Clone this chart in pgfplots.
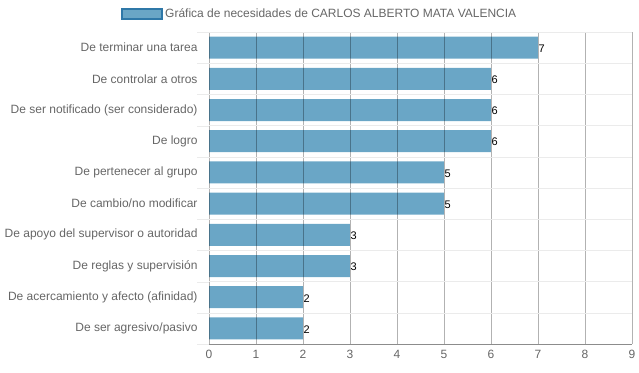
\documentclass[border=0pt]{standalone}
\usepackage{pgfplots}
\pgfplotsset{compat=1.18}
\usepackage{fontspec}
\setmainfont{Liberation Sans}
\definecolor{barc}{HTML}{6AA6C6}
\definecolor{barb}{HTML}{2F78A8}
\definecolor{lab}{HTML}{666666}
\begin{document}
\begin{tikzpicture}[x=1pt,y=1pt]
\path[use as bounding box] (0,0) rectangle (639,372);
\begin{axis}[
  at={(209pt,28pt)}, anchor=south west,
  scale only axis, width=423pt, height=312pt,
  xbar, bar width=22pt,
  xmin=0, xmax=9, xtick={0,...,9},
  ymin=-0.5, ymax=9.5, y dir=reverse,
  ytick={0,...,9},
  yticklabels={De terminar una tarea, De controlar a otros, De ser notificado (ser considerado), De logro, De pertenecer al grupo, De cambio/no modificar, De apoyo del supervisor o autoridad, De reglas y supervisión, De acercamiento y afecto (afinidad), De ser agresivo/pasivo},
  minor ytick={-0.5,0.5,...,9.5},
  major tick length=0pt,
  minor tick length=12pt,
  tick align=outside,
  minor tick style={color=black!8},
  xmajorgrids, major x grid style={black, opacity=0.3},
  yminorgrids, minor y grid style={black!8},
  axis x line*=bottom, axis y line*=left,
  x axis line style={black!45, -},
  y axis line style={draw=none},
  axis on top,
  tick label style={font=\fontsize{12}{14}\selectfont, text=lab},
  xticklabel style={yshift=-3pt},
  yticklabel style={xshift=-8pt},
  /pgf/number format/assume math mode=true,
  nodes near coords,
  every node near coord/.append style={font=\fontsize{11}{13}\selectfont, text=black, anchor=west, inner sep=0.5pt, yshift=-1pt},
  legend style={at={(0.2612,1.0577)}, anchor=center, draw=none, fill=none,
    font=\fontsize{12}{14}\selectfont, text=lab},
  legend image code/.code={\draw[fill=barc, draw=barb, line width=2.5pt] (0pt,-5pt) rectangle (40pt,5pt);},
]
\addplot[fill=barc, draw=none] coordinates {(7,0) (6,1) (6,2) (6,3) (5,4) (5,5) (3,6) (3,7) (2,8) (2,9)};
\addlegendentry{Gráfica de necesidades de CARLOS ALBERTO MATA VALENCIA}
\end{axis}
\end{tikzpicture}
\end{document}
